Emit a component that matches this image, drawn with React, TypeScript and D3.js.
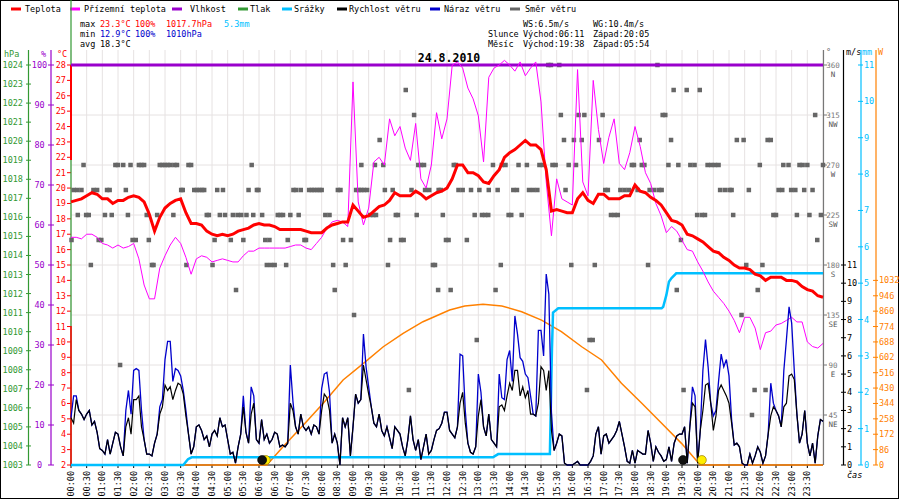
import React from 'react';
import * as d3 from 'd3';

const FONT = "'DejaVu Sans Mono', 'Liberation Mono', monospace";

// ---- data ----
// temperature, every 10 min 00:00..24:00
const temperature = [
  19.1, 19.2, 19.3, 19.5, 19.7, 19.6,
  19.3, 19.3, 19.0, 19.2, 19.2, 19.4,
  19.5, 19.4, 19.1, 18.3, 17.2, 18.1,
  18.7, 19.0, 19.2, 19.3, 18.4, 17.7,
  17.7, 17.6, 17.2, 17.0, 16.9, 17.0,
  16.9, 17.0, 17.2, 17.3, 17.4, 17.6,
  17.7, 17.6, 17.6, 17.5, 17.3, 17.3,
  17.3, 17.3, 17.3, 17.2, 17.1, 17.1,
  17.1, 17.4, 17.6, 17.7, 17.8, 17.8,
  18.9, 18.5, 18.1, 18.2, 18.5, 18.8,
  18.9, 19.2, 19.7, 19.5, 19.5, 19.5,
  19.8, 19.6, 19.3, 19.5, 19.7, 19.8,
  20.0, 20.6, 21.5, 21.5, 21.0, 21.0,
  20.8, 20.4, 20.3, 20.8, 21.2, 22.0,
  22.3, 22.5, 22.8, 23.1, 22.8, 22.8,
  22.5, 21.2, 18.5, 18.6, 18.5, 18.4,
  18.4, 19.3, 19.7, 19.2, 19.0, 19.6,
  19.6, 19.3, 19.3, 19.3, 19.5, 19.5,
  20.2, 19.8, 19.7, 19.4, 19.2, 18.9,
  18.4, 17.9, 17.8, 17.6, 17.0, 16.9,
  16.7, 16.5, 16.2, 15.9, 15.8, 15.5,
  15.3, 15.0, 14.8, 14.8, 14.7, 14.4,
  14.3, 14.0, 14.2, 14.2, 14.2, 14.0,
  14.0, 13.9, 13.6, 13.4, 13.3, 13.0,
  12.9,
];

// feels-like temperature, every 10 min
const feelsLike = [
  16.8, 16.8, 16.7, 17.0, 17.0, 16.8,
  16.4, 16.3, 16.1, 16.3, 16.1, 16.2,
  16.4, 15.4, 13.7, 12.8, 12.8, 14.8,
  15.6, 16.3, 16.8, 16.4, 15.5, 14.4,
  15.4, 15.6, 15.5, 15.2, 15.3, 15.4,
  15.3, 15.2, 15.2, 15.6, 15.9, 15.9,
  16.1, 16.1, 16.1, 16.1, 16.1, 16.1,
  16.2, 16.3, 16.3, 16.1, 16.0, 16.4,
  16.8, 17.4, 17.8, 17.9, 17.8, 17.5,
  26.9, 19.1, 17.6, 18.7, 21.7, 22.0,
  21.5, 24.5, 23.4, 24.0, 22.6, 21.8,
  24.2, 20.6, 20.0, 21.5, 24.9, 23.2,
  24.5, 28.0, 28.2, 27.8, 26.5, 25.8,
  24.7, 21.7, 27.2, 27.8, 28.0, 28.3,
  28.0, 27.6, 28.2, 27.3, 27.8, 28.2,
  25.6, 20.4, 16.9, 20.6, 19.3, 19.1,
  18.9, 27.7, 20.4, 19.5, 27.0, 23.8,
  21.6, 23.3, 24.5, 21.6, 21.2, 22.3,
  24.0, 22.7, 21.0, 20.3, 19.0, 18.2,
  17.1, 17.5, 17.2, 16.6, 16.0, 15.9,
  15.2, 14.6, 13.9, 13.3, 12.9, 12.5,
  12.0, 11.4, 10.6, 11.6, 11.6, 10.9,
  9.5, 10.6, 10.7, 11.1, 11.2, 11.4,
  11.6, 11.3, 11.3, 10.0, 9.7, 9.6,
  9.9,
];

// humidity, hourly
const humidity = [100, 100, 100, 100, 100, 100, 100, 100, 100, 100, 100, 100, 100,
  100, 100, 100, 100, 100, 100, 100, 100, 100, 100, 100, 100];

// wind speed m/s, every 5 min
const windSpeed = [
  2.6, 2.3, 3.6, 3.0, 2.8, 2.5, 2.8, 3.0, 2.2, 2.4,
  1.8, 0.9, 0.8, 0.6, 1.4, 0.6, 1.2, 1.8, 1.7, 1.0,
  0.5, 2.1, 2.6, 1.7, 3.6, 3.6, 3.8, 2.1, 1.4, 0.6,
  0.6, 0.5, 1.2, 1.7, 2.8, 3.2, 4.4, 4.1, 4.3, 3.6,
  4.1, 4.5, 4.4, 3.9, 2.7, 1.7, 0.6, 1.0, 2.1, 2.2,
  1.9, 1.4, 1.6, 1.0, 1.7, 1.9, 1.6, 2.6, 2.1, 2.2,
  1.4, 0.6, 0.7, 0.1, 1.0, 1.7, 3.2, 1.8, 1.2, 2.8,
  3.4, 1.4, 1.2, 2.5, 1.4, 1.7, 1.2, 1.4, 1.8, 1.7,
  1.0, 1.1, 1.0, 1.2, 3.4, 3.0, 2.1, 1.7, 2.8, 2.1,
  1.9, 2.1, 1.7, 2.2, 2.1, 1.7, 3.0, 3.9, 3.7, 3.0,
  1.2, 1.7, 1.2, 0.0, 2.6, 2.1, 2.6, 0.5, 2.1, 3.9,
  3.4, 3.6, 5.5, 4.7, 3.9, 3.2, 2.3, 2.1, 2.8, 1.9,
  1.6, 2.1, 1.5, 0.9, 2.1, 1.9, 1.7, 1.0, 0.5, 1.4,
  2.7, 1.4, 0.8, 1.4, 0.3, 1.0, 1.7, 0.6, 0.8, 1.4,
  1.9, 2.0, 2.3, 2.9, 2.9,
  1.9, 1.7, 1.5, 2.1, 3.4,
  4.0, 2.3, 1.2, 0.7, 0.6, 1.0, 2.7, 3.6, 2.1, 1.6,
  2.8, 1.4, 1.2, 1.0, 3.2, 3.3, 3.0, 3.8, 4.5, 4.1,
  5.2, 5.2, 3.8, 4.3, 3.7, 4.1, 2.8, 2.8, 2.7, 3.4,
  5.4, 5.2, 4.1, 5.2, 1.9, 0.8, 1.2, 1.7, 1.6, 0.1,
  0.0, 0.0, 0.0, 0.1, 0.2, 0.0, 0.0, 0.0, 0.0, 0.2,
  0.5, 1.7, 2.1, 0.6, 1.6, 1.7, 1.2, 1.4, 1.6, 1.9,
  2.4, 1.7, 1.0, 0.2, 0.1, 0.8, 0.1, 0.8, 0.7, 0.6,
  0.6, 1.9, 1.2, 0.2, 1.0, 0.7, 0.5, 0.2, 0.3, 1.0,
  0.2, 1.2, 1.6, 1.7, 1.7, 2.1, 0.1, 2.1, 3.4, 3.2,
  0.1, 1.9, 3.0, 4.4, 4.5, 3.4, 1.9, 2.7, 4.1, 4.4,
  4.1, 3.8, 3.4, 2.3, 1.1, 1.2, 1.0, 0.1, 0.0, 0.0,
  0.6, 0.1, 0.5, 1.0, 0.7, 0.1, 0.5, 1.7, 2.7, 3.2,
  3.0, 2.7, 2.1, 3.2, 3.4, 4.9, 5.0, 4.7, 2.8, 1.2,
  1.7, 3.0, 1.2, 0.5, 1.2, 0.1, 1.6, 2.5, 2.4,
];

// wind gust m/s, every 5 min
const windGust = [
  2.6, 3.8, 3.8, 3.0, 2.8, 2.5, 2.8, 3.0, 2.2, 2.4,
  1.8, 0.9, 0.8, 0.6, 1.4, 0.6, 1.2, 1.8, 1.7, 1.0,
  0.5, 3.0, 4.1, 2.8, 5.2, 5.3, 5.2, 3.0, 1.4, 0.6,
  0.6, 0.5, 1.2, 1.7, 3.2, 3.6, 5.8, 6.8, 6.8, 4.6,
  5.3, 5.2, 4.9, 4.1, 3.0, 1.7, 0.6, 1.0, 2.1, 2.2,
  1.9, 1.4, 1.6, 1.0, 1.7, 1.9, 1.6, 2.6, 2.1, 2.2,
  1.4, 0.6, 0.7, 0.1, 1.0, 1.7, 3.8, 1.8, 1.2, 4.3,
  3.8, 1.4, 1.2, 2.5, 1.4, 1.7, 1.2, 1.4, 1.8, 1.7,
  1.0, 1.1, 1.0, 1.2, 5.5, 3.5, 2.1, 1.7, 2.8, 2.1,
  1.9, 2.1, 1.7, 2.2, 2.1, 1.7, 4.2, 5.0, 5.1, 4.0,
  1.2, 1.7, 1.2, 0.0, 2.6, 2.1, 2.6, 0.5, 2.1, 3.9,
  3.4, 3.6, 7.2, 5.4, 4.3, 3.2, 2.3, 2.1, 2.8, 1.9,
  1.6, 2.1, 1.5, 0.9, 2.1, 1.9, 1.7, 1.0, 0.5, 1.4,
  2.7, 1.4, 0.8, 1.4, 0.3, 1.0, 1.7, 0.6, 0.8, 1.4,
  1.9, 2.0, 2.3, 2.9, 2.9,
  1.9, 1.7, 1.5, 2.1, 6.1,
  6.0, 3.0, 1.2, 0.7, 0.6, 1.0, 5.0, 4.0, 2.1, 1.6,
  2.8, 1.4, 1.2, 1.0, 5.0, 3.7, 3.6, 5.8, 6.3, 4.6,
  8.2, 7.2, 5.9, 5.7, 5.0, 4.8, 3.8, 2.8, 2.7, 7.4,
  7.4, 6.0, 10.5, 9.4, 2.9, 0.8, 1.2, 1.7, 1.6, 0.1,
  0.0, 0.0, 0.0, 0.1, 0.2, 0.0, 0.0, 0.0, 0.0, 0.2,
  0.5, 1.7, 2.1, 0.6, 1.6, 1.7, 1.2, 1.4, 1.6, 1.9,
  2.4, 1.7, 1.0, 0.2, 0.1, 0.8, 0.1, 0.8, 0.7, 0.6,
  0.6, 1.9, 1.2, 0.2, 1.0, 0.7, 0.5, 0.2, 0.3, 1.0,
  0.2, 1.2, 1.6, 1.7, 1.7, 2.1, 0.1, 2.1, 4.3, 3.8,
  0.1, 1.9, 5.2, 6.9, 5.4, 3.4, 2.7, 3.0, 4.6, 6.1,
  5.4, 5.8, 4.9, 2.5, 1.1, 1.2, 1.0, 0.1, 0.0, 0.0,
  0.6, 0.1, 0.5, 1.0, 0.7, 0.1, 0.5, 1.7, 4.5, 3.4,
  3.0, 2.7, 2.1, 5.2, 6.9, 8.7, 7.8, 5.2, 2.8, 1.2,
  1.7, 3.0, 1.2, 0.5, 1.2, 0.1, 1.6, 2.5, 2.4,
];

// cumulative precipitation [minute, mm]
const rain: [number, number][] = [
  [0, 0], [215, 0], [224, 0.16], [231, 0.21], [808, 0.21], [818, 0.3], [917, 0.3],
  [921, 3.2], [923, 4.19], [933, 4.31], [1131, 4.31], [1134, 4.35], [1140, 4.67],
  [1145, 5.04], [1150, 5.14], [1159, 5.27], [1440, 5.27],
];

// solar radiation [minute, W/m2]
const solar: [number, number][] = [
  [0, 0], [375, 0], [406, 102], [445, 224], [483, 345], [521, 475], [560, 568],
  [598, 661], [636, 736], [674, 801], [725, 866], [754, 889], [789, 898], [825, 889],
  [863, 857], [901, 810], [939, 745], [978, 661], [1016, 587], [1054, 457], [1093, 345],
  [1131, 233], [1169, 121], [1205, 0], [1440, 0],
];

// wind direction samples [minute, degrees]
const windDir: [number, number][] = [
  [1, 202.5], [5, 247.5], [12, 247.5], [13, 225], [20, 247.5], [24, 270], [29, 225], [34, 225],
  [38, 180], [43, 247.5], [50, 247.5], [53, 202.5], [58, 202.5], [65, 225], [69, 247.5], [74, 247.5],
  [78, 225], [85, 270], [90, 270], [94, 90], [100, 270], [105, 247.5], [109, 225], [114, 270],
  [118, 202.5], [124, 202.5], [130, 270], [135, 270], [140, 270], [145, 225], [149, 202.5], [155, 180],
  [158, 180], [165, 225], [170, 270], [175, 270], [180, 270], [185, 270], [190, 270], [196, 225],
  [198, 270], [203, 270], [211, 247.5], [214, 247.5], [221, 180], [225, 270], [230, 270], [236, 247.5],
  [241, 247.5], [246, 247.5], [251, 247.5], [255, 247.5], [260, 225], [264, 225], [271, 180], [275, 202.5],
  [280, 247.5], [285, 225], [291, 247.5], [295, 225], [306, 202.5], [310, 225], [316, 157.5], [319, 225],
  [326, 225], [330, 202.5], [336, 225], [340, 247.5], [346, 270], [349, 225], [356, 247.5], [359, 247.5],
  [366, 225], [372, 202.5], [375, 180], [380, 202.5], [383, 180], [390, 180], [396, 225], [401, 225],
  [406, 225], [412, 180], [415, 202.5], [420, 225], [426, 247.5], [431, 247.5], [436, 225], [440, 247.5],
  [447, 202.5], [450, 202.5], [456, 247.5], [461, 247.5], [466, 247.5], [471, 247.5], [476, 247.5], [480, 247.5],
  [487, 225], [495, 225], [502, 180], [505, 157.5], [511, 247.5], [516, 247.5], [521, 202.5], [526, 180],
  [536, 202.5], [542, 135], [546, 247.5], [551, 247.5], [556, 247.5], [556, 270], [561, 247.5], [567, 247.5],
  [573, 225], [579, 225], [582, 270], [584, 225], [591, 292.5], [598, 270], [601, 247.5], [607, 180],
  [611, 202.5], [616, 247.5], [622, 225], [626, 225], [632, 202.5], [637, 202.5], [641, 337.5], [647, 67.5],
  [652, 247.5], [657, 315], [662, 225], [665, 270], [670, 270], [676, 270], [678, 247.5], [686, 247.5],
  [693, 180], [697, 180], [703, 157.5], [704, 247.5], [708, 247.5], [712, 225], [718, 202.5], [723, 202.5],
  [727, 157.5], [733, 270], [737, 270], [742, 247.5], [750, 247.5], [758, 202.5], [766, 247.5], [773, 225],
  [777, 112.5], [782, 247.5], [787, 225], [793, 225], [799, 225], [800, 247.5], [808, 270], [813, 157.5],
  [817, 247.5], [823, 180], [825, 270], [832, 270], [838, 225], [843, 225], [847, 247.5], [854, 247.5],
  [857, 270], [863, 225], [873, 270], [877, 247.5], [885, 247.5], [893, 247.5], [897, 270], [904, 270],
  [914, 360], [919, 360], [922, 270], [928, 270], [935, 360], [938, 315], [944, 292.5], [947, 247.5],
  [953, 270], [958, 180], [963, 292.5], [967, 270], [972, 315], [978, 292.5], [983, 315], [988, 67.5],
  [993, 112.5], [999, 112.5], [1003, 180], [1011, 292.5], [1018, 315], [1023, 247.5], [1028, 247.5], [1034, 225],
  [1041, 225], [1047, 225], [1052, 247.5], [1060, 247.5], [1068, 247.5], [1074, 270], [1078, 270], [1085, 247.5],
  [1089, 292.5], [1093, 270], [1098, 270], [1105, 180], [1108, 247.5], [1117, 247.5], [1123, 360], [1126, 247.5],
  [1131, 247.5], [1133, 315], [1138, 315], [1144, 270], [1149, 292.5], [1154, 337.5], [1160, 157.5], [1163, 270],
  [1168, 202.5], [1173, 67.5], [1179, 337.5], [1186, 270], [1194, 270], [1199, 225], [1204, 337.5], [1208, 225],
  [1214, 225], [1219, 270], [1226, 270], [1233, 270], [1240, 270], [1243, 247.5], [1252, 247.5], [1261, 247.5],
  [1265, 247.5], [1268, 225], [1275, 292.5], [1284, 135], [1288, 292.5], [1293, 180], [1298, 247.5], [1304, 45],
  [1309, 67.5], [1315, 157.5], [1319, 270], [1324, 180], [1330, 67.5], [1334, 292.5], [1340, 292.5], [1345, 225],
  [1350, 225], [1355, 247.5], [1362, 247.5], [1364, 270], [1374, 270], [1379, 247.5], [1387, 247.5], [1390, 225],
  [1395, 270], [1401, 270], [1404, 247.5], [1410, 270], [1414, 225], [1420, 247.5], [1425, 315], [1429, 202.5],
  [1436, 225], [1440, 270],
];

// sun / moon events (minute, type)
const events: { t: number; kind: 'sun' | 'moon' }[] = [
  { t: 373, kind: 'sun' }, { t: 366, kind: 'moon' },
  { t: 1172, kind: 'moon' }, { t: 1208, kind: 'sun' },
];

const pressureTicks = d3.range(1003, 1025);
const humidityTicks = [0, 10, 20, 30, 40, 50, 60, 70, 80, 90, 100];
const tempTicks = d3.range(2, 29);
const dirTicks: [number, string][] = [[360, 'N'], [315, 'NW'], [270, 'W'], [225, 'SW'], [180, 'S'], [135, 'SE'], [90, 'E'], [45, 'NE']];
const windTicks = d3.range(0, 12);
const rainTicks = d3.range(0, 12);
const solarTicks = [0, 86, 172, 258, 344, 430, 516, 602, 688, 774, 860, 946, 1032];
const timeLabels = d3.range(0, 48).map((i) => `${String(Math.floor(i / 2)).padStart(2, '0')}:${i % 2 ? '30' : '00'}`);

const legend: { name: string; color: string; lx: number; tx: number }[] = [
  { name: 'Teplota', color: '#ff0000', lx: 11, tx: 25 },
  { name: 'Přízemní teplota', color: '#ff00ff', lx: 70, tx: 84 },
  { name: 'Vlhkost', color: '#9900cc', lx: 172, tx: 190 },
  { name: 'Tlak', color: '#339933', lx: 238, tx: 250 },
  { name: 'Srážky', color: '#00bfff', lx: 282, tx: 294 },
  { name: 'Rychlost větru', color: '#000000', lx: 337, tx: 349 },
  { name: 'Náraz větru', color: '#0000cc', lx: 430, tx: 444 },
  { name: 'Směr větru', color: '#666666', lx: 510, tx: 525 },
];

const RED = '#ff0000';
const BLUE = '#0000cc';
const GREEN = '#339933';
const PURPLE = '#9900cc';
const CYAN = '#00bfff';
const ORANGE = '#ff8000';
const GRAY = '#666666';

export default function App() {
  const x = d3.scaleLinear().domain([0, 1440]).range([71, 823]);
  const yT = d3.scaleLinear().domain([2, 28]).range([465, 65]);
  const yHum = d3.scaleLinear().domain([0, 100]).range([465, 65]);
  const yP = d3.scaleLinear().domain([1003, 1024]).range([465, 65]);
  const yDir = d3.scaleLinear().domain([0, 360]).range([465, 65]);
  const yWind = d3.scaleLinear().domain([0, 22]).range([465, 65]);
  const yRain = d3.scaleLinear().domain([0, 11]).range([465, 65]);
  const ySun = d3.scaleLinear().domain([0, 86 * 26]).range([465, 65]);

  const line10 = d3.line<number>().x((_, i) => x(i * 10)).y((d) => yT(d));
  const lineHum = d3.line<number>().x((_, i) => x(i * 60)).y((d) => yHum(d));
  const lineWind = d3.line<number>().x((_, i) => x(i * 5)).y((d) => yWind(d));
  const linePairsRain = d3.line<[number, number]>().x((d) => x(d[0])).y((d) => yRain(d[1]));
  const linePairsSun = d3.line<[number, number]>().x((d) => x(d[0])).y((d) => ySun(d[1]));

  const gridX = d3.range(0, 1441, 30);
  const gridY = [315, 270, 225, 180, 135, 90, 45];

  return (
    <svg
      width={900}
      height={500}
      style={{ position: 'absolute', left: 0, top: 0, background: '#fff' }}
      fontFamily={FONT}
      fontSize={8.5}
    >
      <rect x={0} y={0} width={900} height={500} fill="#fff" />
      <rect x={0.5} y={0.5} width={898} height={498} fill="none" stroke="#000" strokeWidth={1} />

      {/* grid */}
      {gridX.map((t) => (
        <line key={'gx' + t} x1={x(t)} x2={x(t)} y1={50} y2={465} stroke="#e6e2e2" strokeWidth={1} />
      ))}
      {gridY.map((d) => (
        <line key={'gy' + d} x1={71} x2={823} y1={yDir(d)} y2={yDir(d)} stroke="#e6e2e2" strokeWidth={1} />
      ))}

      {/* legend */}
      {legend.map((l) => (
        <g key={l.name}>
          <line x1={l.lx} x2={l.lx + 10} y1={9} y2={9} stroke={l.color} strokeWidth={3} />
          <text x={l.tx} y={12} fill="#000">{l.name}</text>
        </g>
      ))}

      {/* info text */}
      <text y={27} fill="#000">
        <tspan x={80}>max</tspan>
        <tspan x={100} fill={RED}>23.3°C</tspan>
        <tspan x={135} fill={RED}>100%</tspan>
        <tspan x={166} fill={RED}>1017.7hPa</tspan>
        <tspan x={224} fill={CYAN}>5.3mm</tspan>
      </text>
      <text y={37} fill="#000">
        <tspan x={80}>min</tspan>
        <tspan x={100} fill={BLUE}>12.9°C</tspan>
        <tspan x={135} fill={BLUE}>100%</tspan>
        <tspan x={166} fill={BLUE}>1010hPa</tspan>
      </text>
      <text y={47} fill="#000">
        <tspan x={80}>avg</tspan>
        <tspan x={100}>18.3°C</tspan>
      </text>
      <text y={27} fill="#000">
        <tspan x={523}>WS:6.5m/s</tspan>
        <tspan x={593}>WG:10.4m/s</tspan>
      </text>
      <text y={37} fill="#000">
        <tspan x={488}>Slunce</tspan>
        <tspan x={523}>Východ:06:11</tspan>
        <tspan x={593}>Západ:20:05</tspan>
      </text>
      <text y={47} fill="#000">
        <tspan x={488}>Měsíc</tspan>
        <tspan x={523}>Východ:19:38</tspan>
        <tspan x={593}>Západ:05:54</tspan>
      </text>

      <text x={449} y={62} textAnchor="middle" fontWeight="bold" fontSize={11.5} fill="#000">24.8.2010</text>

      {/* left axes */}
      <text x={4} y={57} fill={GREEN}>hPa</text>
      <text x={41} y={57} fill={PURPLE}>%</text>
      <text x={57} y={57} fill={RED}>°C</text>
      <line x1={28.5} x2={28.5} y1={50} y2={465} stroke={GREEN} strokeWidth={1.2} />
      {pressureTicks.map((p) => (
        <g key={'p' + p}>
          <line x1={26} x2={31} y1={yP(p)} y2={yP(p)} stroke={GREEN} />
          <text x={23} y={yP(p) + 3} textAnchor="end" fill={GREEN}>{p}</text>
        </g>
      ))}
      <line x1={51} x2={51} y1={50} y2={465} stroke={PURPLE} strokeWidth={1.2} />
      {humidityTicks.map((h) => (
        <g key={'h' + h}>
          <line x1={48} x2={54} y1={yHum(h)} y2={yHum(h)} stroke={PURPLE} />
          <text x={39.5} y={yHum(h) + 3} textAnchor="middle" fill={PURPLE}>{h}</text>
        </g>
      ))}
      {tempTicks.map((t) => (
        <g key={'t' + t}>
          <line x1={67} x2={71} y1={yT(t)} y2={yT(t)} stroke={RED} />
          <text x={66} y={yT(t) + 3} textAnchor="end" fill={RED}>{t}</text>
        </g>
      ))}
      <line x1={71} x2={71} y1={0} y2={465} stroke={GREEN} strokeWidth={1.2} />
      <line x1={71} x2={71} y1={65} y2={160} stroke={RED} strokeWidth={2} />
      <line x1={71} x2={71} y1={326} y2={465} stroke={RED} strokeWidth={1.5} />

      {/* right axes */}
      <text x={826} y={55} fill={GRAY}>°</text>
      <line x1={823.5} x2={823.5} y1={50} y2={465} stroke="#777" strokeWidth={1.2} />
      {dirTicks.map(([d, n]) => (
        <g key={'d' + d}>
          <line x1={823} x2={827} y1={yDir(d)} y2={yDir(d)} stroke="#777" />
          <text x={833} y={yDir(d) + 2.5} textAnchor="middle" fill="#777" fontSize={7.5}>{d}</text>
          <text x={833} y={yDir(d) + 11.5} textAnchor="middle" fill="#555" fontSize={7.5}>{n}</text>
        </g>
      ))}
      <text x={846} y={55} fill="#000">m/s</text>
      <line x1={843.5} x2={843.5} y1={50} y2={465} stroke="#000" strokeWidth={1.2} />
      {windTicks.map((w) => (
        <g key={'w' + w}>
          <line x1={841} x2={846} y1={yWind(w)} y2={yWind(w)} stroke="#000" />
          <text x={847} y={yWind(w) + 3} fill="#000">{w}</text>
        </g>
      ))}
      <text x={862} y={55} fill={CYAN}>mm</text>
      <line x1={861} x2={861} y1={50} y2={465} stroke={CYAN} strokeWidth={1.2} />
      {rainTicks.map((r) => (
        <g key={'r' + r}>
          <line x1={858} x2={863} y1={yRain(r)} y2={yRain(r)} stroke={CYAN} />
          <text x={864} y={yRain(r) + 3} fill={CYAN}>{r}</text>
        </g>
      ))}
      <text x={878} y={55} fill={ORANGE}>W</text>
      <line x1={876} x2={876} y1={50} y2={465} stroke={ORANGE} strokeWidth={1.2} />
      {solarTicks.map((s) => (
        <g key={'s' + s}>
          <line x1={873} x2={878} y1={ySun(s)} y2={ySun(s)} stroke={ORANGE} />
          <text x={879} y={ySun(s) + 3} fill={ORANGE}>{s}</text>
        </g>
      ))}
      <text x={847} y={478} fill="#000" fontStyle="italic">čas</text>

      {/* x axis */}
      <line x1={71} x2={823} y1={465} y2={465} stroke="#000" strokeWidth={1.2} />
      {timeLabels.map((lab, i) => (
        <g key={lab}>
          <line x1={x(i * 30)} x2={x(i * 30)} y1={465} y2={468} stroke="#000" />
          <text
            transform={`translate(${x(i * 30) + 3},471) rotate(-90)`}
            textAnchor="end"
            fill="#000"
          >
            {lab}
          </text>
        </g>
      ))}

      {/* wind direction squares */}
      {windDir.map(([t, d], i) => (
        <rect key={'wd' + i} x={x(t) - 2.25} y={yDir(d) - 2.25} width={4.5} height={4.5} fill={GRAY} />
      ))}

      {/* humidity */}
      <path d={lineHum(humidity) || ''} fill="none" stroke={PURPLE} strokeWidth={3} />

      {/* solar radiation */}
      <path d={linePairsSun(solar) || ''} fill="none" stroke={ORANGE} strokeWidth={1.5} />

      {/* precipitation */}
      <path d={linePairsRain(rain) || ''} fill="none" stroke={CYAN} strokeWidth={2.5} />

      {/* feels like */}
      <path d={line10(feelsLike) || ''} fill="none" stroke="#ff00ff" strokeWidth={1} />

      {/* temperature */}
      <path d={line10(temperature) || ''} fill="none" stroke={RED} strokeWidth={3} />

      {/* wind gust & speed */}
      <path d={lineWind(windGust) || ''} fill="none" stroke={BLUE} strokeWidth={1.3} />
      <path d={lineWind(windSpeed) || ''} fill="none" stroke="#000" strokeWidth={1.2} />

      {/* sun / moon */}
      {events.map((e, i) => (
        <circle
          key={'ev' + i}
          cx={x(e.t)}
          cy={460}
          r={4.5}
          fill={e.kind === 'sun' ? '#ffee00' : '#111'}
          stroke={e.kind === 'sun' ? '#886600' : '#000'}
          strokeWidth={0.6}
        />
      ))}
    </svg>
  );
}
